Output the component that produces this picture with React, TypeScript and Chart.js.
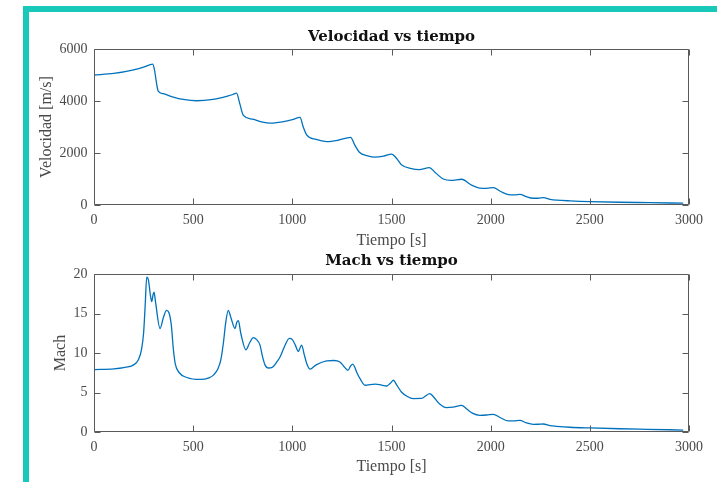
import React, { useEffect, useRef } from "react";
import { Chart, registerables } from "chart.js";

Chart.register(...registerables);

// ---------- data ----------
const timeVel = [
  0, 100, 200, 250, 296, 305, 315, 324, 350, 400, 450, 518, 600, 650, 700, 719,
  735, 753, 800, 850, 887, 950, 1000, 1039, 1055, 1072, 1120, 1173, 1230, 1294,
  1315, 1338, 1380, 1417, 1460, 1501, 1525, 1550, 1600, 1640, 1691, 1720, 1761,
  1800, 1854, 1900, 1947, 1980, 2013, 2050, 2089, 2120, 2148, 2180, 2215, 2240,
  2266, 2300, 2333, 2400, 2500, 2650, 2800, 2971,
];
const velocity = [
  5000, 5060, 5200, 5300, 5420, 5200, 4700, 4380, 4280, 4150, 4060, 4010, 4060,
  4140, 4250, 4300, 3900, 3450, 3300, 3190, 3150, 3200, 3280, 3370, 3000, 2700,
  2520, 2440, 2490, 2600, 2300, 2030, 1890, 1840, 1880, 1960, 1800, 1550, 1400,
  1360, 1440, 1250, 1000, 950, 990, 780, 650, 640, 670, 520, 400, 390, 410, 320,
  260, 260, 280, 220, 190, 160, 130, 105, 90, 70,
];

const timeMach = [
  0, 100, 150, 200, 225, 240, 250, 258, 266, 274, 285, 291, 298, 303, 310, 333,
  350, 366, 378, 390, 400, 410, 430, 468, 535, 580, 602, 625, 640, 652, 665, 677,
  690, 711, 720, 728, 740, 766, 785, 803, 820, 837, 850, 862, 880, 896, 920, 938,
  960, 985, 1000, 1015, 1030, 1040, 1047, 1060, 1075, 1089, 1120, 1173, 1210,
  1240, 1260, 1280, 1295, 1304, 1315, 1324, 1345, 1366, 1417, 1440, 1476, 1495,
  1510, 1525, 1550, 1580, 1609, 1651, 1693, 1710, 1740, 1777, 1810, 1853, 1880,
  1910, 1945, 1980, 2013, 2050, 2089, 2120, 2147, 2180, 2215, 2240, 2265, 2300,
  2332, 2400, 2500, 2650, 2786, 2971,
];
const mach = [
  7.9, 8.0, 8.15, 8.5, 9.2, 10.5, 12.5, 16, 19.6, 19.3, 17.2, 16.5, 17.4, 17.7,
  16.5, 13.1, 14.5, 15.4, 15.1, 13.5, 10.5, 8.6, 7.5, 6.9, 6.65, 6.85, 7.2, 8.0,
  9.2, 11.2, 14, 15.4, 14.5, 13.1, 13.9, 14.1, 12.5, 10.4, 11.3, 11.95, 11.7,
  11.0, 9.5, 8.5, 8.1, 8.15, 8.8, 9.5, 10.8, 11.85, 11.7, 11.0, 10.2, 10.7, 11.0,
  9.8, 8.5, 7.95, 8.5, 9.0, 9.05, 8.85, 8.3, 7.8, 8.4, 8.6, 8.2, 7.6, 6.6, 5.92,
  6.05, 6.0, 5.82, 6.2, 6.55, 6.0, 5.07, 4.5, 4.23, 4.25, 4.86, 4.5, 3.6, 3.09,
  3.15, 3.38, 2.9, 2.35, 2.11, 2.15, 2.24, 1.8, 1.4, 1.42, 1.48, 1.15, 0.97,
  0.98, 1.01, 0.8, 0.72, 0.6, 0.51, 0.41, 0.34, 0.25,
];

const timeRange = [0, 3000];
const timeStep = 500;
const velRange = [0, 6000];
const velStep = 2000;
const machRange = [0, 20];
const machStep = 5;

const titleVel = "Velocidad vs tiempo";
const titleMach = "Mach vs tiempo";
const xLabel = "Tiempo [s]";
const yLabelVel = "Velocidad [m/s]";
const yLabelMach = "Mach";

// ---------- style ----------
const LINE_COLOR = "#0072BD";
const AXIS_COLOR = "#5a5a5a";
const TEXT_COLOR = "#4a4a4a";
const TITLE_COLOR = "#111111";
const SERIF = "'Liberation Serif', serif";
const TITLE_FONT = "'DejaVu Serif', serif";
const TICK_LEN = 6;

const boxPlugin = {
  id: "matlabBox",
  afterDatasetsDraw(chart: any) {
    const { ctx, chartArea, scales } = chart;
    const L = Math.round(chartArea.left) + 0.5;
    const R = Math.round(chartArea.right) - 0.5;
    const T = Math.round(chartArea.top) + 0.5;
    const B = Math.round(chartArea.bottom) - 0.5;
    ctx.save();
    ctx.strokeStyle = AXIS_COLOR;
    ctx.lineWidth = 1;
    ctx.beginPath();
    ctx.rect(L, T, R - L, B - T);
    const xs = scales.x;
    xs.ticks.forEach((t: any) => {
      const px = Math.round(xs.getPixelForValue(t.value)) + 0.5;
      ctx.moveTo(px, B);
      ctx.lineTo(px, B - TICK_LEN);
      ctx.moveTo(px, T);
      ctx.lineTo(px, T + TICK_LEN);
    });
    const ys = scales.y;
    ys.ticks.forEach((t: any) => {
      const py = Math.round(ys.getPixelForValue(t.value)) + 0.5;
      ctx.moveTo(L, py);
      ctx.lineTo(L + TICK_LEN, py);
      ctx.moveTo(R, py);
      ctx.lineTo(R - TICK_LEN, py);
    });
    ctx.stroke();
    ctx.restore();
  },
};

function makeConfig(p: {
  xs: number[];
  ys: number[];
  yRange: number[];
  yStep: number;
  title: string;
  yLabel: string;
  canvasH: number;
  plotTop: number;
  plotBottom: number;
  titleCenter: number;
  tickPad: number;
  xTitlePad: number;
  yTitlePad: number;
}) {
  const titleSize = 15;
  const titleLH = titleSize * 1.2;
  const titlePadTop = p.titleCenter - titleLH / 2;
  const titlePadBottom = p.plotTop - titlePadTop - titleLH;
  const xAxisH = p.canvasH - p.plotBottom;
  return {
    type: "line" as const,
    data: {
      datasets: [
        {
          data: p.xs.map((x, i) => ({ x, y: p.ys[i] })),
          borderColor: LINE_COLOR,
          borderWidth: 1.3,
          pointRadius: 0,
          fill: false,
          cubicInterpolationMode: "monotone" as const,
        },
      ],
    },
    options: {
      animation: false as const,
      responsive: false,
      events: [],
      layout: { padding: { left: 0, right: 28, top: 0, bottom: 0 } },
      plugins: {
        legend: { display: false },
        tooltip: { enabled: false },
        title: {
          display: true,
          text: p.title,
          fullSize: false,
          color: TITLE_COLOR,
          font: { family: TITLE_FONT, size: titleSize, weight: "bold" as const, lineHeight: 1.2 },
          padding: { top: titlePadTop, bottom: titlePadBottom },
        },
      },
      scales: {
        x: {
          type: "linear" as const,
          min: timeRange[0],
          max: timeRange[1],
          grid: { display: false, drawTicks: false },
          border: { display: false },
          ticks: {
            stepSize: timeStep,
            color: TEXT_COLOR,
            padding: p.tickPad,
            maxRotation: 0,
            font: { family: SERIF, size: 14, lineHeight: 1.2 },
            callback: (v: any) => String(v),
          },
          title: {
            display: true,
            text: xLabel,
            color: TEXT_COLOR,
            font: { family: SERIF, size: 16, lineHeight: 1.2 },
            padding: { top: 0, bottom: p.xTitlePad },
          },
          afterFit: (s: any) => {
            s.height = xAxisH;
          },
        },
        y: {
          type: "linear" as const,
          min: p.yRange[0],
          max: p.yRange[1],
          grid: { display: false, drawTicks: false },
          border: { display: false },
          ticks: {
            stepSize: p.yStep,
            color: TEXT_COLOR,
            padding: 6.5,
            font: { family: SERIF, size: 14, lineHeight: 1.2 },
            callback: (v: any) => String(v),
          },
          title: {
            display: true,
            text: p.yLabel,
            color: TEXT_COLOR,
            font: { family: SERIF, size: 16, lineHeight: 1.2 },
            padding: { top: p.yTitlePad, bottom: 0 },
          },
          afterFit: (s: any) => {
            s.width = 94;
          },
        },
      },
    },
    plugins: [boxPlugin],
  };
}

const C1_TOP = 0;
const C1_H = 252;
const C2_TOP = 252;
const C2_H = 230;

export default function App() {
  const ref1 = useRef<HTMLCanvasElement>(null);
  const ref2 = useRef<HTMLCanvasElement>(null);

  useEffect(() => {
    const c1 = new Chart(
      ref1.current!,
      makeConfig({
        xs: timeVel,
        ys: velocity,
        yRange: velRange,
        yStep: velStep,
        title: titleVel,
        yLabel: yLabelVel,
        canvasH: C1_H,
        plotTop: 49 - C1_TOP,
        plotBottom: 205 - C1_TOP,
        titleCenter: 37 - C1_TOP,
        tickPad: 7,
        xTitlePad: 1.4,
        yTitlePad: 37.4,
      }) as any
    );
    const c2 = new Chart(
      ref2.current!,
      makeConfig({
        xs: timeMach,
        ys: mach,
        yRange: machRange,
        yStep: machStep,
        title: titleMach,
        yLabel: yLabelMach,
        canvasH: C2_H,
        plotTop: 274 - C2_TOP,
        plotBottom: 432 - C2_TOP,
        titleCenter: 261.5 - C2_TOP,
        tickPad: 6.5,
        xTitlePad: 5.4,
        yTitlePad: 51.4,
      }) as any
    );
    return () => {
      c1.destroy();
      c2.destroy();
    };
  }, []);

  return (
    <div
      style={{
        position: "fixed",
        left: 0,
        top: 0,
        width: 717,
        height: 482,
        overflow: "hidden",
        background: "#ffffff",
      }}
    >
      <div
        style={{
          position: "absolute",
          left: 23,
          top: 6,
          width: 720,
          height: 520,
          borderLeft: "6px solid #18c9b9",
          borderTop: "6px solid #18c9b9",
          boxSizing: "border-box",
        }}
      />
      <canvas
        ref={ref1}
        width={717}
        height={C1_H}
        style={{ position: "absolute", left: 0, top: C1_TOP, width: 717, height: C1_H }}
      />
      <canvas
        ref={ref2}
        width={717}
        height={C2_H}
        style={{ position: "absolute", left: 0, top: C2_TOP, width: 717, height: C2_H }}
      />
    </div>
  );
}
